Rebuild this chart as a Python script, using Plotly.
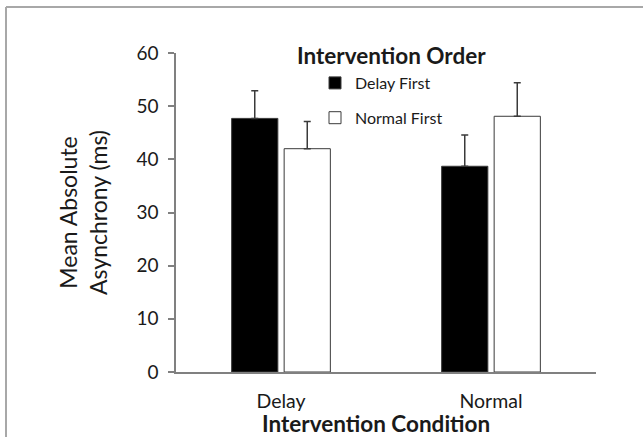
import plotly.graph_objects as go

categories = ["Delay", "Normal"]
series_names = ["Delay First", "Normal First"]
delay_first = [47.7, 38.7]
normal_first = [42.0, 48.1]
delay_first_err = [5.2, 5.9]
normal_first_err = [5.1, 6.3]
y_ticks = [0, 10, 20, 30, 40, 50, 60]

FONT = "Lato"
W, H = 643, 437
L, R, T, B = 176, 47, 53, 65

fig = go.Figure()
fig.add_trace(go.Bar(
    x=categories, y=delay_first, name=series_names[0],
    marker=dict(color="#000000", line=dict(color="#3a3a3a", width=1)),
    error_y=dict(type="data", array=delay_first_err, arrayminus=[0, 0], symmetric=False,
                 color="#3a3a3a", thickness=1.5, width=3.5),
    legendgroup="a",
))
fig.add_trace(go.Bar(
    x=categories, y=normal_first, name=series_names[1],
    marker=dict(color="#ffffff", line=dict(color="#3a3a3a", width=1)),
    error_y=dict(type="data", array=normal_first_err, arrayminus=[0, 0], symmetric=False,
                 color="#3a3a3a", thickness=1.5, width=3.5),
    legendgroup="b",
))

pw = W - L - R
ph = H - T - B
def px(x):
    return (x - L) / pw
def py(y):
    return (H - B - y) / ph

fig.update_layout(
    width=W, height=H,
    margin=dict(l=L, r=R, t=T, b=B),
    paper_bgcolor="white", plot_bgcolor="white",
    barmode="group", bargap=0.5, bargroupgap=0.12,
    font=dict(family=FONT, color="#1a1a1a"),
    showlegend=True,
    legend=dict(x=px(315), y=py(66), xanchor="left", yanchor="top",
                bgcolor="rgba(0,0,0,0)", font=dict(size=16, family=FONT),
                traceorder="grouped", tracegroupgap=11,
                itemwidth=30),
    xaxis=dict(range=[-0.5, 1.5], showline=True, linecolor="#808080", linewidth=1.5,
               ticks="", tickfont=dict(size=19.5, family=FONT), ticklabelstandoff=11,
               showgrid=False, zeroline=False, automargin=False),
    yaxis=dict(range=[0, 60], tickvals=y_ticks, showline=True, linecolor="#808080", linewidth=1.5,
               ticks="outside", ticklen=6, tickcolor="#808080", tickwidth=1.5,
               tickfont=dict(size=19, family=FONT), ticklabelstandoff=6,
               title=dict(text="Mean Absolute<br>Asynchrony (ms)", font=dict(size=23, family=FONT), standoff=22),
               showgrid=False, zeroline=False, automargin=False),
    annotations=[
        dict(text="<b>Intervention Order</b>", x=px(391), y=py(55), xref="paper", yref="paper",
             showarrow=False, font=dict(size=22.5, family=FONT), xanchor="center", yanchor="middle"),
        dict(text="<b>Intervention Condition</b>", x=px(376), y=py(423.5), xref="paper", yref="paper",
             showarrow=False, font=dict(size=22.5, family=FONT), xanchor="center", yanchor="middle"),
    ],
    shapes=[
        dict(type="line", xref="paper", yref="paper", x0=px(6), x1=px(643), y0=py(7), y1=py(7),
             line=dict(color="#a8a8a8", width=2)),
        dict(type="line", xref="paper", yref="paper", x0=px(6), x1=px(6), y0=py(7), y1=py(437),
             line=dict(color="#a8a8a8", width=2)),
    ],
)

fig.write_html("out.html", config={"displayModeBar": False},
               post_script="document.body.style.margin='0px';document.body.style.overflow='hidden';")
